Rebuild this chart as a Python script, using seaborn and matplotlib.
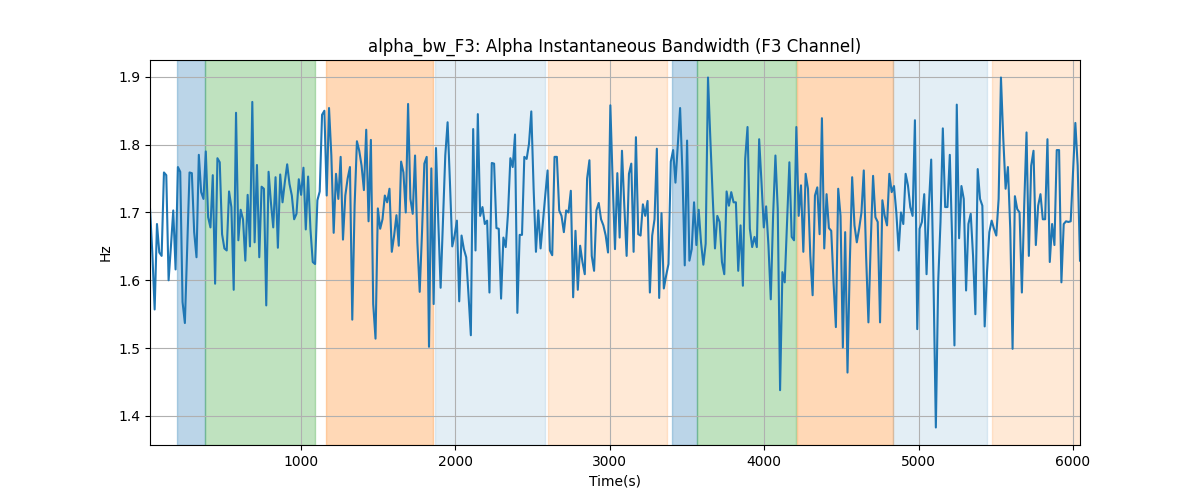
import numpy as np
import pandas as pd
import matplotlib
matplotlib.use("Agg")
import matplotlib.pyplot as plt
import seaborn as sns

t_start = 25.0
t_step = 15.05

bandwidth_hz = [
    1.706, 1.640, 1.557, 1.683, 1.641, 1.636, 1.759, 1.755, 1.600, 1.650, 1.703,
    1.616, 1.767, 1.760, 1.568, 1.537, 1.650, 1.759, 1.758, 1.671, 1.634,
    1.785, 1.730, 1.720, 1.790, 1.693, 1.678, 1.755, 1.595, 1.780, 1.774,
    1.668, 1.647, 1.644, 1.731, 1.708, 1.586, 1.847, 1.659, 1.704, 1.690,
    1.629, 1.726, 1.650, 1.863, 1.656, 1.770, 1.634, 1.738, 1.735, 1.563,
    1.760, 1.715, 1.678, 1.752, 1.648, 1.756, 1.715, 1.745, 1.771, 1.742,
    1.725, 1.690, 1.698, 1.749, 1.726, 1.766, 1.675, 1.753, 1.676, 1.627,
    1.624, 1.718, 1.731, 1.844, 1.850, 1.725, 1.854, 1.784, 1.670, 1.757,
    1.720, 1.782, 1.660, 1.725, 1.750, 1.767, 1.542, 1.710, 1.805, 1.791,
    1.769, 1.733, 1.822, 1.687, 1.807, 1.565, 1.514, 1.706, 1.676, 1.690,
    1.725, 1.715, 1.735, 1.642, 1.666, 1.696, 1.651, 1.775, 1.759, 1.700,
    1.860, 1.720, 1.698, 1.784, 1.656, 1.583, 1.671, 1.772, 1.782, 1.502,
    1.765, 1.565, 1.795, 1.686, 1.589, 1.686, 1.784, 1.833, 1.745, 1.650,
    1.666, 1.688, 1.569, 1.666, 1.646, 1.634, 1.578, 1.519, 1.823, 1.644,
    1.845, 1.695, 1.708, 1.683, 1.688, 1.582, 1.773, 1.772, 1.677, 1.676,
    1.573, 1.663, 1.649, 1.700, 1.780, 1.767, 1.815, 1.552, 1.667, 1.667,
    1.782, 1.779, 1.801, 1.849, 1.735, 1.642, 1.703, 1.647, 1.686, 1.725,
    1.762, 1.644, 1.637, 1.782, 1.782, 1.703, 1.695, 1.671, 1.703, 1.700,
    1.732, 1.575, 1.673, 1.586, 1.651, 1.627, 1.609, 1.750, 1.777, 1.636,
    1.614, 1.703, 1.714, 1.690, 1.681, 1.666, 1.641, 1.858, 1.745, 1.646,
    1.758, 1.663, 1.791, 1.710, 1.636, 1.757, 1.772, 1.642, 1.811, 1.668,
    1.666, 1.712, 1.695, 1.717, 1.582, 1.666, 1.690, 1.794, 1.574, 1.699,
    1.588, 1.607, 1.624, 1.775, 1.792, 1.744, 1.799, 1.854, 1.759, 1.622,
    1.806, 1.629, 1.646, 1.715, 1.652, 1.704, 1.656, 1.623, 1.654, 1.899,
    1.809, 1.725, 1.647, 1.695, 1.686, 1.627, 1.609, 1.731, 1.710, 1.730,
    1.715, 1.715, 1.614, 1.681, 1.592, 1.779, 1.826, 1.676, 1.649, 1.664,
    1.649, 1.808, 1.745, 1.678, 1.709, 1.651, 1.572, 1.695, 1.784, 1.705,
    1.438, 1.612, 1.597, 1.686, 1.774, 1.664, 1.659, 1.826, 1.695, 1.740,
    1.642, 1.757, 1.735, 1.636, 1.578, 1.725, 1.737, 1.668, 1.839, 1.647,
    1.727, 1.677, 1.673, 1.597, 1.531, 1.735, 1.695, 1.501, 1.671, 1.464,
    1.627, 1.752, 1.681, 1.656, 1.676, 1.700, 1.762, 1.636, 1.538, 1.656,
    1.754, 1.693, 1.686, 1.538, 1.718, 1.695, 1.681, 1.757, 1.730, 1.739,
    1.700, 1.644, 1.700, 1.683, 1.757, 1.740, 1.708, 1.695, 1.836, 1.528,
    1.676, 1.686, 1.727, 1.609, 1.710, 1.778, 1.597, 1.383, 1.597, 1.686,
    1.824, 1.708, 1.708, 1.785, 1.661, 1.504, 1.859, 1.662, 1.739, 1.720,
    1.585, 1.683, 1.698, 1.636, 1.550, 1.764, 1.720, 1.710, 1.532, 1.612,
    1.671, 1.688, 1.676, 1.666, 1.720, 1.899, 1.809, 1.735, 1.767, 1.676,
    1.499, 1.724, 1.705, 1.700, 1.582, 1.710, 1.818, 1.636, 1.769, 1.791,
    1.652, 1.710, 1.727, 1.690, 1.690, 1.808, 1.627, 1.683, 1.652, 1.792,
    1.792, 1.597, 1.683, 1.687, 1.686, 1.687, 1.759, 1.832, 1.769, 1.629,
]

span_starts = [198, 379, 1164, 1869, 2604, 3406, 3568, 4211, 4837, 5476]
span_ends = [379, 1095, 1860, 2585, 3372, 3568, 4208, 4834, 5444, 6100]
span_colors = ["tab:blue", "tab:green", "tab:orange", "tab:blue", "tab:orange",
               "tab:blue", "tab:green", "tab:orange", "tab:blue", "tab:orange"]
span_alphas = [0.3, 0.3, 0.3, 0.12, 0.17, 0.3, 0.3, 0.3, 0.12, 0.17]

time_s = t_start + t_step * np.arange(len(bandwidth_hz))
df = pd.DataFrame({"Time(s)": time_s, "Hz": bandwidth_hz})

fig, ax = plt.subplots(figsize=(12, 5), dpi=100)
for s, e, c, a in zip(span_starts, span_ends, span_colors, span_alphas):
    ax.axvspan(s, e, color=c, alpha=a)

sns.lineplot(data=df, x="Time(s)", y="Hz", ax=ax, color="tab:blue", linewidth=1.5)
ax.set_xlim(time_s.min(), time_s.max())
ax.grid(True, color="#b0b0b0", linewidth=0.8)
ax.set_title("alpha_bw_F3: Alpha Instantaneous Bandwidth (F3 Channel)")
ax.set_xlabel("Time(s)")
ax.set_ylabel("Hz")

fig.savefig("out.png", dpi=100)
